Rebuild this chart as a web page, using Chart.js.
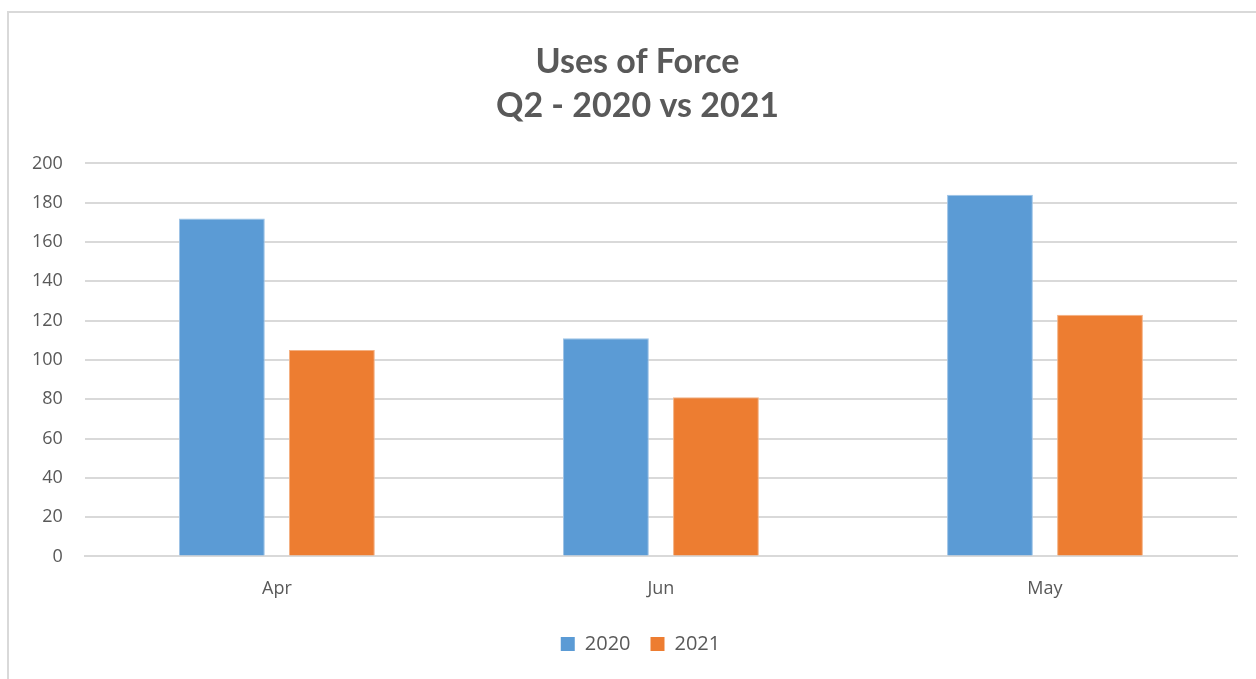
<!DOCTYPE html>
<html>
<head>
<meta charset="utf-8">
<script src="https://cdn.jsdelivr.net/npm/chart.js@4"></script>
<style>
html,body{margin:0;padding:0;background:#fff;width:1256px;height:679px;overflow:hidden;}
#frame{position:absolute;left:7px;top:11px;width:1300px;height:700px;border:2px solid #d9d9d9;box-sizing:border-box;}
#wrap{position:absolute;left:0;top:0;width:1256px;height:679px;}
</style>
</head>
<body>
<div id="frame"></div>
<div id="wrap"><canvas id="c"></canvas></div>
<script>
const categories = ["Apr", "Jun", "May"];
const series2020 = [172, 111, 184];
const series2021 = [105, 81, 123];
const seriesNames = ["2020", "2021"];
const yTicks = [0, 20, 40, 60, 80, 100, 120, 140, 160, 180, 200];
const titleLines = ["Uses of Force", "Q2 - 2020 vs 2021"];

const FONT = "'Open Sans', Lato, sans-serif";
const TFONT = "Lato, 'Open Sans', sans-serif";
const GRAY = "#595959";

// nudges the title and legend boxes to match the reference's centring
const shiftPlugin = {
  id: 'shiftBoxes',
  afterLayout(chart) {
    const t = chart.titleBlock;
    if (t) { t.left += 14; t.right += 14; }
    const l = chart.legend;
    if (l) { l.left += 17; l.right += 17; l.top -= 8; l.bottom -= 8; }
  }
};

new Chart(document.getElementById('c'), {
  type: 'bar',
  data: {
    labels: categories,
    datasets: [
      { label: seriesNames[0], data: series2020, backgroundColor: '#5b9bd5', borderColor: '#9dc3e6', borderWidth: 1 },
      { label: seriesNames[1], data: series2021, backgroundColor: '#ed7d31', borderColor: '#f4b183', borderWidth: 1 }
    ]
  },
  plugins: [shiftPlugin],
  options: {
    responsive: true,
    maintainAspectRatio: false,
    animation: false,
    datasets: { bar: { categoryPercentage: 0.573, barPercentage: 0.78 } },
    layout: { padding: { left: 10, right: 19, top: 40, bottom: 7 } },
    plugins: {
      title: {
        display: true,
        text: titleLines,
        color: GRAY,
        font: { family: TFONT, size: 34, weight: 'bold', lineHeight: 1.3 },
        padding: { top: 0, bottom: 35 }
      },
      legend: {
        position: 'bottom',
        labels: {
          color: GRAY,
          font: { family: FONT, size: 20 },
          boxWidth: 14,
          boxHeight: 14,
          padding: 20,
          generateLabels(chart) {
            return chart.data.datasets.map((ds, i) => ({
              text: ds.label,
              fillStyle: ds.backgroundColor,
              strokeStyle: ds.backgroundColor,
              lineWidth: 0,
              fontColor: GRAY,
              datasetIndex: i,
              hidden: false
            }));
          }
        }
      },
      tooltip: { enabled: false }
    },
    scales: {
      x: {
        grid: { display: false, drawTicks: false },
        border: { display: true, color: '#d9d9d9', width: 2 },
        ticks: { color: GRAY, font: { family: FONT, size: 18 }, padding: 22 }
      },
      y: {
        min: 0,
        max: 200,
        afterBuildTicks(scale) { scale.ticks = yTicks.map(v => ({ value: v })); },
        grid: { color: '#d9d9d9', lineWidth: 2, drawTicks: false },
        border: { display: false },
        ticks: { color: GRAY, font: { family: FONT, size: 18 }, padding: 22 }
      }
    }
  }
});
</script>
</body>
</html>
